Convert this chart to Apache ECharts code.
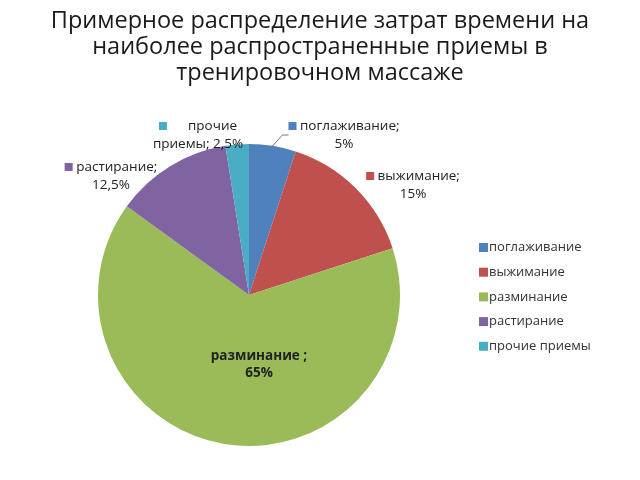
<!DOCTYPE html>
<html><head><meta charset="utf-8">
<script src="https://cdn.jsdelivr.net/npm/echarts@6/dist/echarts.min.js"></script>
<style>html,body{margin:0;padding:0;background:#fff}#c{width:640px;height:480px}</style>
</head><body><div id="c"></div>
<script>
var categories = ['поглаживание', 'выжимание', 'разминание', 'растирание', 'прочие приемы'];
var values = [5, 15, 65, 12.5, 2.5];
var valueTexts = ['5%', '15%', '65%', '12,5%', '2,5%'];
var colors = ['#4F81BD', '#C0504D', '#9BBB59', '#8064A2', '#4BACC6'];

var labelPos = [[344, 135], [413, 185], [259, 365], [111, 176], [198, 135]];

var chart = echarts.init(document.getElementById('c'));
var data = categories.map(function (n, i) {
  var d = { name: n, value: values[i], itemStyle: { color: colors[i] } };
  if (i === 2) {
    d.label = { position: 'inside', formatter: 'разминание ;\n65%', fontWeight: 'bold', lineHeight: 17 };
  } else if (i === 4) {
    d.label = { formatter: '{s4|}      прочие\nприемы; ' + valueTexts[i] };
  } else {
    d.label = { formatter: '{s' + i + '|} ' + n + ';\n' + valueTexts[i] };
  }
  d.labelLine = { show: i === 0 };
  return d;
});
var rich = {};
colors.forEach(function (c, i) {
  rich['s' + i] = { backgroundColor: c, width: 8, height: 8 };
});
chart.setOption({
  animation: false,
  title: {
    text: 'Примерное распределение затрат времени на\nнаиболее распространенные приемы в\nтренировочном массаже',
    left: 'center', top: 3,
    textStyle: { fontFamily: 'Open Sans', fontSize: 23.5, fontWeight: 'normal', color: '#1a1a1a', lineHeight: 26 }
  },
  legend: {
    orient: 'vertical', left: 474, top: 236, itemGap: 11.7, itemWidth: 9, itemHeight: 9,
    icon: 'rect', data: categories,
    textStyle: { fontFamily: 'Open Sans', fontSize: 13, color: '#333', padding: [0, 0, 0, -4] }
  },
  series: [{
    type: 'pie', center: [249, 295], radius: 151, startAngle: 90, clockwise: true,
    data: data,
    label: {
      show: true, position: 'outside', fontFamily: 'Open Sans', fontSize: 13.5, color: '#222',
      lineHeight: 18, align: 'center', rich: rich
    },
    labelLine: { lineStyle: { color: '#777', width: 1 }, length: 6, length2: 6 },
    labelLayout: function (p) {
      return { x: labelPos[p.dataIndex][0], y: labelPos[p.dataIndex][1], align: 'center', verticalAlign: 'middle' };
    },
    itemStyle: { borderWidth: 0 }
  }]
});
</script></body></html>
